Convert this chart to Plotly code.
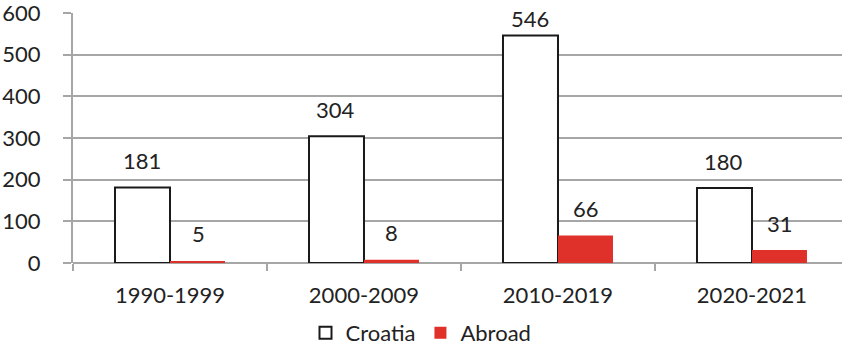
import plotly.graph_objects as go

periods = ["1990-1999", "2000-2009", "2010-2019", "2020-2021"]
croatia = [181, 304, 546, 180]
abroad = [5, 8, 66, 31]
y_ticks = [0, 100, 200, 300, 400, 500, 600]

FONT = "Lato"
FSIZE = 22
GRID = "#A6A6A6"
RED = "#E0302A"

M_TOP, M_BOT, HEIGHT = 13, 89, 352
Y_MAX = 600
plot_h = HEIGHT - M_TOP - M_BOT

fig = go.Figure()
fig.add_trace(go.Bar(
    name="Croatia", x=periods, y=croatia,
    marker=dict(color="white", line=dict(color="#1a1a1a", width=2)),
))
fig.add_trace(go.Bar(
    name="Abroad", x=periods, y=abroad,
    marker=dict(color=RED, line=dict(color=RED, width=0)),
))

# value labels above each bar; labels near the top are pulled down to stay inside
for vals, shift in ((croatia, -28), (abroad, 28)):
    for p, v in zip(periods, vals):
        bar_top_px = M_TOP + (1 - v / Y_MAX) * plot_h
        ys = min(27, bar_top_px - 18)
        fig.add_annotation(
            x=p, y=v, xref="x", yref="y", text=str(v), showarrow=False,
            xshift=shift, yshift=ys, font=dict(family=FONT, size=FSIZE, color="#222"),
        )

fig.update_layout(
    width=842, height=HEIGHT,
    margin=dict(l=73, r=0, t=M_TOP, b=M_BOT, autoexpand=False),
    paper_bgcolor="white", plot_bgcolor="white",
    barmode="group", bargap=0.433, bargroupgap=0,
    font=dict(family=FONT, size=FSIZE, color="#222"),
    showlegend=True,
    legend=dict(orientation="h", xref="container", x=0.5, xanchor="center",
                yref="container", y=19 / HEIGHT, yanchor="middle",
                font=dict(family=FONT, size=FSIZE, color="#222"),
                itemwidth=30, tracegroupgap=0),
)
fig.update_xaxes(
    range=[-0.5, 3.464], showgrid=False, showline=False, zeroline=False,
    ticks="outside", tickson="boundaries", ticklen=7, tickcolor=GRID, tickwidth=2,
    ticklabelstandoff=17,
)
fig.update_yaxes(
    range=[0, Y_MAX], tickvals=y_ticks, showgrid=True, gridcolor=GRID, gridwidth=2,
    showline=True, linecolor=GRID, linewidth=2, zeroline=True, zerolinecolor=GRID, zerolinewidth=2,
    ticks="outside", ticklen=8, tickcolor=GRID, tickwidth=2, ticklabelstandoff=18,
    ticklabeloverflow="allow",
)

fig.write_html("out.html")
